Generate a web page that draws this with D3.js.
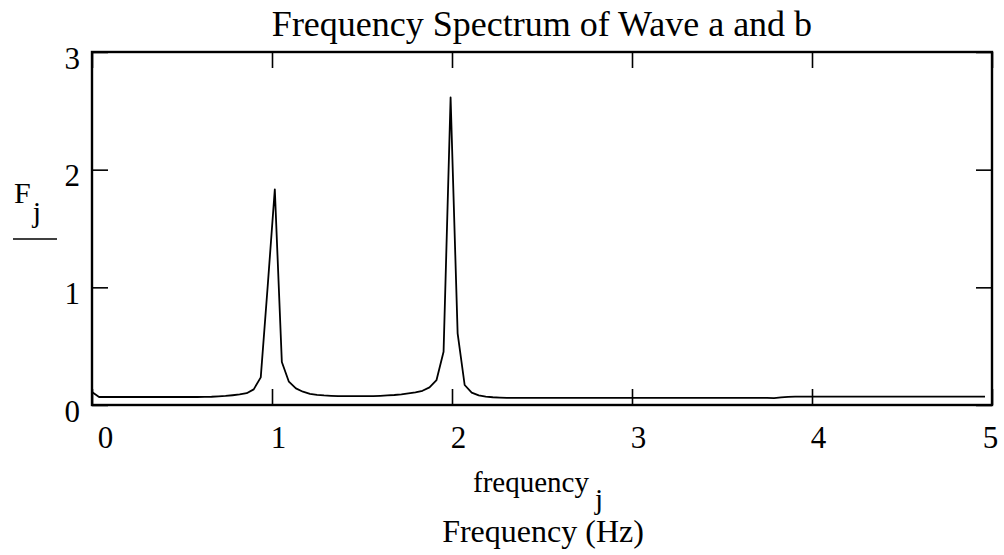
<!DOCTYPE html>
<html>
<head>
<meta charset="utf-8">
<script src="https://cdn.jsdelivr.net/npm/d3@7"></script>
<style>
  body { margin: 0; background: #fff; }
  text { font-family: "Liberation Serif", "Times New Roman", serif; fill: #000; }
</style>
</head>
<body>
<svg id="chart"></svg>
<script>
// spectrum magnitudes F_j, j = 0..127
var magnitudes = [
  0.11, 0.068, 0.068, 0.068, 0.068, 0.068, 0.068, 0.068, 0.068, 0.068, 0.068, 0.068, 0.068, 0.068, 0.068, 0.068,
  0.069, 0.070, 0.073, 0.077, 0.083, 0.090, 0.100, 0.133, 0.235, 1.02, 1.833, 0.365, 0.198, 0.141, 0.113, 0.095,
  0.086, 0.081, 0.078, 0.076, 0.075, 0.075, 0.075, 0.075, 0.076, 0.078, 0.081, 0.085, 0.091, 0.099, 0.108, 0.121,
  0.150, 0.212, 0.453, 2.614, 0.609, 0.170, 0.105, 0.082, 0.071, 0.066, 0.063, 0.061, 0.060, 0.060, 0.060, 0.060,
  0.060, 0.060, 0.060, 0.060, 0.060, 0.060, 0.060, 0.060, 0.060, 0.060, 0.060, 0.060, 0.060, 0.060, 0.060, 0.060,
  0.060, 0.060, 0.060, 0.060, 0.060, 0.060, 0.060, 0.060, 0.060, 0.060, 0.060, 0.060, 0.060, 0.060, 0.060, 0.060,
  0.060, 0.059, 0.064, 0.069, 0.071, 0.071, 0.071, 0.071, 0.071, 0.071, 0.071, 0.071, 0.071, 0.071, 0.071, 0.071,
  0.071, 0.071, 0.071, 0.071, 0.071, 0.071, 0.071, 0.071, 0.071, 0.071, 0.071, 0.071, 0.071, 0.071, 0.071, 0.071
];
// frequency spacing of the FFT bins (Hz)
var df = 5 / 128;

var xTicks = [0, 1, 2, 3, 4, 5];
var yTicks = [0, 1, 2, 3];

var title = "Frequency Spectrum of Wave a and b";
var xLabel = "Frequency (Hz)";

var margin = {top: 52, right: 12, bottom: 150, left: 92},
    width = 1004 - margin.left - margin.right,
    height = 555 - margin.top - margin.bottom;

var x = d3.scaleLinear().domain([0, 5]).range([0, width]);
var y = d3.scaleLinear().domain([0, 3]).range([height, 0]);

var root = d3.select("#chart")
    .attr("width", 1004)
    .attr("height", 555);

var svg = root.append("g")
    .attr("transform", "translate(" + margin.left + "," + margin.top + ")");

// ticks inward on all four sides
var tick = 16;

var bottom = svg.append("g")
    .attr("transform", "translate(0," + height + ")")
    .call(d3.axisBottom(x).tickValues(xTicks).tickSize(-tick).tickSizeOuter(0).tickFormat(d3.format("d")));
svg.append("g")
    .call(d3.axisTop(x).tickValues(xTicks).tickSize(-tick).tickSizeOuter(0).tickFormat(""));
var left = svg.append("g")
    .call(d3.axisLeft(y).tickValues(yTicks).tickSize(-tick).tickSizeOuter(0).tickFormat(d3.format("d")));
svg.append("g")
    .attr("transform", "translate(" + width + ",0)")
    .call(d3.axisRight(y).tickValues(yTicks).tickSize(-tick).tickSizeOuter(0).tickFormat(""));

svg.selectAll(".domain").remove();
svg.selectAll(".tick line").attr("stroke", "#000").attr("stroke-width", 1.6);

bottom.selectAll("text")
    .attr("y", 43)
    .attr("dy", 0)
    .attr("dx", function(d, i) { return i === 0 ? 13 : (i === xTicks.length - 1 ? -2 : 6); })
    .style("font-size", "31px")
    .style("font-family", "Liberation Serif");

left.selectAll("text")
    .attr("x", -12)
    .attr("dy", 16)
    .style("font-size", "31px")
    .style("font-family", "Liberation Serif");

// frame
svg.append("rect")
    .attr("width", width)
    .attr("height", height)
    .attr("fill", "none")
    .attr("stroke", "#000")
    .attr("stroke-width", 2.4);

// the spectrum
var line = d3.line()
    .x(function(d, i) { return x(i * df); })
    .y(function(d) { return y(d); });

svg.append("path")
    .datum(magnitudes)
    .attr("fill", "none")
    .attr("stroke", "#000")
    .attr("stroke-width", 1.8)
    .attr("stroke-linejoin", "round")
    .attr("d", line);

// title
root.append("text")
    .attr("x", margin.left + width / 2)
    .attr("y", 36)
    .attr("text-anchor", "middle")
    .style("font-size", "36px")
    .text(title);

// y label: F with subscript j, and the units bar under it
var fy = root.append("text")
    .attr("x", 14)
    .attr("y", 203)
    .style("font-size", "30px");
fy.append("tspan").text("F");
fy.append("tspan").attr("dx", 2).attr("dy", 19).text("j");

root.append("line")
    .attr("x1", 13).attr("x2", 57)
    .attr("y1", 239).attr("y2", 239)
    .attr("stroke", "#000")
    .attr("stroke-width", 1.6);

// x label: frequency with subscript j, then the units line
var fx = root.append("text")
    .attr("x", margin.left + width / 2 - 4)
    .attr("y", 492)
    .attr("text-anchor", "middle")
    .style("font-size", "29px");
fx.append("tspan").text("frequency");
fx.append("tspan").attr("dx", 6).attr("dy", 17).text("j");

root.append("text")
    .attr("x", margin.left + width / 2 + 1)
    .attr("y", 542)
    .attr("text-anchor", "middle")
    .style("font-size", "32px")
    .text(xLabel);
</script>
</body>
</html>
